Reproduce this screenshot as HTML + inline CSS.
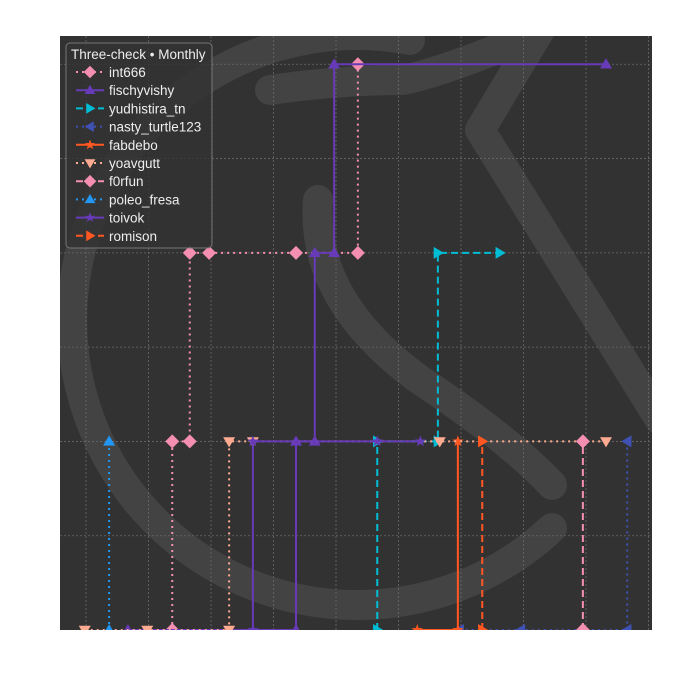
<!DOCTYPE html>
<html><head><meta charset="utf-8"><style>
body{margin:0;background:#fff;}
svg{display:block;font-family:"Liberation Sans","DejaVu Sans",sans-serif;}
</style></head><body>
<svg id="chart" width="700" height="700"></svg>
<script>
// x in months from first gridline, y in value units
const seriesNames = ["int666","fischyvishy","yudhistira_tn","nasty_turtle123","fabdebo","yoavgutt","f0rfun","poleo_fresa","toivok","romison"];
const int666X = [1.38,1.38,1.66,1.66,1.97,3.36,4.35,4.35];
const int666Y = [0,2,2,4,4,4,4,6];
const fischyX = [0.67,3.36,3.36,3.66,3.66,3.97,3.97,8.32];
const fischyY = [0,0,2,2,4,4,6,6];
const yudhX = [4.66,4.66,5.63,5.63,6.62];
const yudhY = [0,2,2,4,4];
const nastyX = [5.98,6.96,8.66,8.66];
const nastyY = [0,0,0,2];
const fabX = [5.3,5.95,5.95];
const fabY = [0,0,2];
const yoavX = [-0.02,0.98,2.29,2.29,2.67,5.66,8.32];
const yoavY = [0,0,0,2,2,2,2];
const forfunX = [7.95,7.95];
const forfunY = [0,2];
const poleoX = [0.37,0.37];
const poleoY = [0,2];
const toivokX = [2.67,2.67,4.66,5.35];
const toivokY = [0,2,2,2];
const romisonX = [6.34,6.34];
const romisonY = [0,2];

const L=60,R=652,T=36,B=630;
const xmin=-0.416,xmax=9.056,ymin=0,ymax=6.3;
const sx=v=>L+(v-xmin)/(xmax-xmin)*(R-L);
const sy=v=>B-(v-ymin)/(ymax-ymin)*(B-T);
const NS="http://www.w3.org/2000/svg";
const svg=document.getElementById('chart');
function mk(tag,attrs,parent){const e=document.createElementNS(NS,tag);for(const k in attrs)e.setAttribute(k,attrs[k]);(parent||svg).appendChild(e);return e;}

const clip=mk('clipPath',{id:'pc'});mk('rect',{x:L,y:T,width:R-L,height:B-T},clip);
mk('rect',{x:L,y:T,width:R-L,height:B-T,fill:'#323232'});
// watermark
const wm=mk('g',{fill:'none',stroke:'#434343','stroke-width':30,'stroke-linecap':'round','stroke-linejoin':'round','clip-path':'url(#pc)'});


mk('path',{d:'M 552 528 A 285 285 0 1 1 410 40'},wm);
mk('path',{d:'M 270 90 Q 340 80 403 80 Q 450 70 530 35'},wm);
mk('path',{d:'M 540 30 L 480 130 L 660 420'},wm);
mk('path',{d:'M 318 200 Q 310 300 420 380 Q 510 440 552 485'},wm);

// grid
const grid=mk('g',{stroke:'#6a6a6a','stroke-width':0.8,'stroke-dasharray':'2,2'});


for(let m=0;m<=9;m++){mk('line',{x1:sx(m),x2:sx(m),y1:T,y2:B},grid);}
for(let v=1;v<=6;v++){mk('line',{x1:L,x2:R,y1:sy(v),y2:sy(v)},grid);}

const styles=[
 {c:'#f48fb1',d:'2,4',m:'D'},{c:'#673ab7',d:'',m:'^'},{c:'#00bcd4',d:'7,4',m:'>'},
 {c:'#3f51b5',d:'2,4',m:'<'},{c:'#ff5722',d:'',m:'*'},{c:'#ffab91',d:'2,4',m:'v'},
 {c:'#f48fb1',d:'7,4',m:'D'},{c:'#2196f3',d:'2,4',m:'^'},{c:'#673ab7',d:'',m:'*'},{c:'#ff5722',d:'7,4',m:'>'}];
const data=[[int666X,int666Y],[fischyX,fischyY],[yudhX,yudhY],[nastyX,nastyY],[fabX,fabY],[yoavX,yoavY],[forfunX,forfunY],[poleoX,poleoY],[toivokX,toivokY],[romisonX,romisonY]];

function marker(g,type,x,y,c,s){
 s=s||1;let d;
 if(type==='D'){const r=7*s;d=`M${x} ${y-r}L${x+r} ${y}L${x} ${y+r}L${x-r} ${y}Z`;}
 else if(type==='^'){const r=6*s;d=`M${x} ${y-r}L${x+r} ${y+r*0.7}L${x-r} ${y+r*0.7}Z`;}
 else if(type==='v'){const r=6*s;d=`M${x} ${y+r}L${x+r} ${y-r*0.7}L${x-r} ${y-r*0.7}Z`;}
 else if(type==='>'){const r=6*s;d=`M${x+r} ${y}L${x-r*0.7} ${y-r}L${x-r*0.7} ${y+r}Z`;}
 else if(type==='<'){const r=6*s;d=`M${x-r} ${y}L${x+r*0.7} ${y-r}L${x+r*0.7} ${y+r}Z`;}
 else {let p='';for(let i=0;i<10;i++){const a=-Math.PI/2+i*Math.PI/5;const r=(i%2?2.5:6)*s;p+=(i?'L':'M')+(x+r*Math.cos(a)).toFixed(1)+' '+(y+r*Math.sin(a)).toFixed(1);}d=p+'Z';}
 return mk('path',{d:d,fill:c},g);
}

const plot=mk('g',{'clip-path':'url(#pc)'});
data.forEach((s,i)=>{
 const [xs,ys]=s;const st=styles[i];
 const g=mk('g',{},plot);
 
 
 let d='M'+sx(xs[0])+' '+sy(ys[0]);
 for(let k=1;k<xs.length;k++){d+='L'+sx(xs[k])+' '+sy(ys[k-1])+'L'+sx(xs[k])+' '+sy(ys[k]);}
 const p=mk('path',{d:d,fill:'none',stroke:st.c,'stroke-width':2,'stroke-dasharray':st.d},g);
 
 
 for(let k=0;k<xs.length;k++){
  const m=marker(g,st.m,sx(xs[k]),sy(ys[k]),st.c);
  
  
 }
});

// legend
const lg=mk('g',{});


mk('rect',{x:66,y:43,width:146,height:205,rx:4,fill:'rgba(50,50,50,0.8)',stroke:'#777','stroke-width':1},lg);
const tt=mk('text',{x:71,y:59,fill:'#eee','font-size':13.5},lg);tt.textContent='Three-check \u2022 Monthly';


seriesNames.forEach((n,i)=>{
 const y=72+i*18.2;const st=styles[i];
 const e=mk('g',{},lg);
 
 
 mk('line',{x1:76,x2:104,y1:y,y2:y,stroke:st.c,'stroke-width':2,'stroke-dasharray':st.d},e);
 marker(e,st.m,90,y,st.c,0.9);
 const t=mk('text',{x:109,y:y+5,fill:'#eee','font-size':13.5},e);t.textContent=n;
});
</script>
</body></html>
